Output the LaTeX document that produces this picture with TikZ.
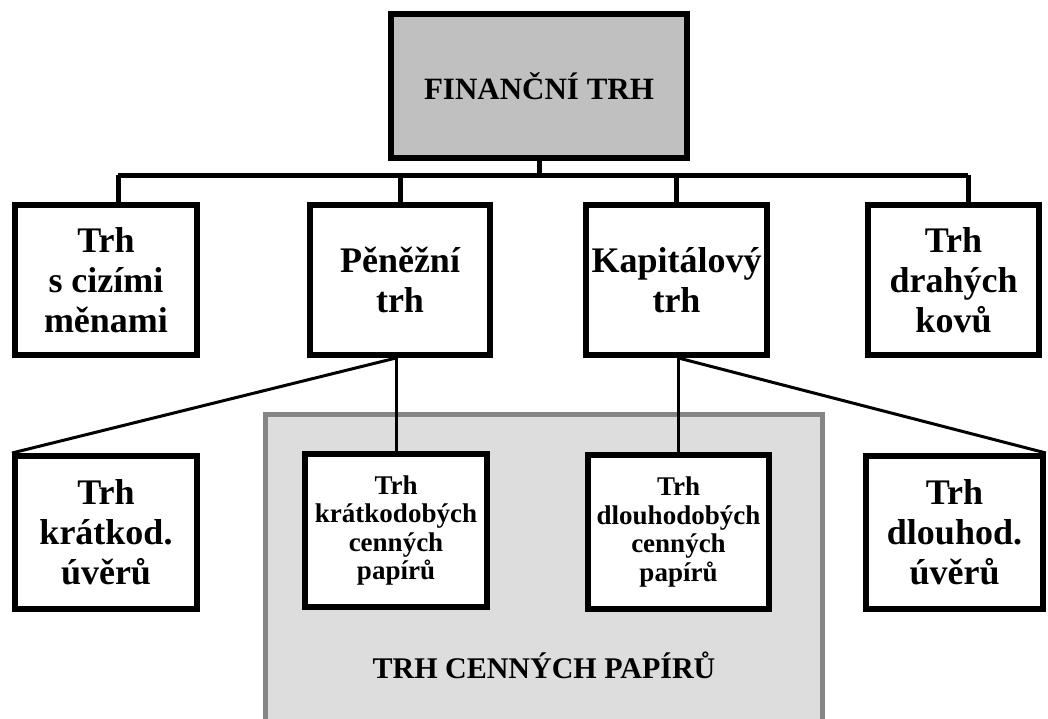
\documentclass[tikz,border=0pt]{standalone}
\usepackage{fontspec}
\setmainfont{Liberation Serif}
\definecolor{boxgray}{HTML}{C0C0C0}
\definecolor{areagray}{HTML}{DDDDDD}
\definecolor{areaborder}{HTML}{858585}

\begin{document}
\begin{tikzpicture}[x=1pt,y=-1pt]

    % Define styles
    \tikzset{
        market box/.style={draw=black, line width=6pt, fill=white, inner sep=0pt, align=center,
            font=\fontsize{36}{40}\selectfont\bfseries},
        small box/.style={market box, font=\fontsize{27}{28.5}\selectfont\bfseries},
        main box/.style={market box, fill=boxgray, font=\fontsize{31}{36}\selectfont\bfseries},
        trunk line/.style={line width=5pt, draw=black},
        branch line/.style={line width=3pt, draw=black},
        securities area/.style={fill=areagray, draw=areaborder, line width=5pt},
        area label/.style={font=\fontsize{30}{36}\selectfont\bfseries}
    }

    % Page size
    \useasboundingbox (0,0) rectangle (1048,718);
    \clip (0,0) rectangle (1048,718);

    % Securities market area (runs off the bottom edge)
    \draw[securities area] (265.5,414.5) rectangle (822.5,740);
    \node[area label, anchor=base] (secLabel) at (544,678) {TRH CENNÝCH PAPÍRŮ};

    % Top box
    \node[main box, minimum width=296, minimum height=144] (financni) at (539,86) {FINANČNÍ TRH};

    % First row
    \node[market box, minimum width=182, minimum height=150] (cizi) at (106,280) {Trh\\s cizími\\měnami};
    \node[market box, minimum width=180, minimum height=150] (penezni) at (400,280) {Pěněžní\\trh};
    \node[market box, minimum width=181, minimum height=150] (kapital) at (676.5,280) {Kapitálový\\trh};
    \node[market box, minimum width=171, minimum height=150] (kovy) at (953.5,280) {Trh\\drahých\\kovů};

    % Second row
    \node[market box, minimum width=182, minimum height=153] (kratkoUver) at (106,532.5) {Trh\\krátkod.\\úvěrů};
    \node[small box, minimum width=182, minimum height=153] (kratkoCP) at (396,530.5) {Trh\\krátkodobých\\cenných\\papírů};
    \node[small box, minimum width=181, minimum height=154] (dlouhoCP) at (678.5,532) {Trh\\dlouhodobých\\cenných\\papírů};
    \node[market box, minimum width=177, minimum height=153] (dlouhoUver) at (954.5,532.5) {Trh\\dlouhod.\\úvěrů};

    % Horizontal bar under the top box
    \coordinate (barL) at (118,175);
    \coordinate (barR) at (968,175);
    \draw[trunk line] (financni.south) -- (financni.south |- barL);
    \draw[trunk line] (barL) -- (barR);
    \draw[trunk line] (barL) -- (barL |- cizi.north);
    \draw[trunk line] (penezni.north |- barL) -- (penezni.north);
    \draw[trunk line] (kapital.north |- barL) -- (kapital.north);
    \draw[trunk line] (barR) -- (barR |- kovy.north);

    % Branches to the second row
    \coordinate (penezniFoot) at (kratkoCP.north |- penezni.south);
    \coordinate (kapitalFoot) at (dlouhoCP.north |- kapital.south);
    \draw[branch line] (penezniFoot) -- (kratkoCP.north);
    \draw[branch line] (penezniFoot) -- (kratkoUver.north west);
    \draw[branch line] (kapitalFoot) -- (dlouhoCP.north);
    \draw[branch line] (kapitalFoot) -- (dlouhoUver.north east);

\end{tikzpicture}
\end{document}
